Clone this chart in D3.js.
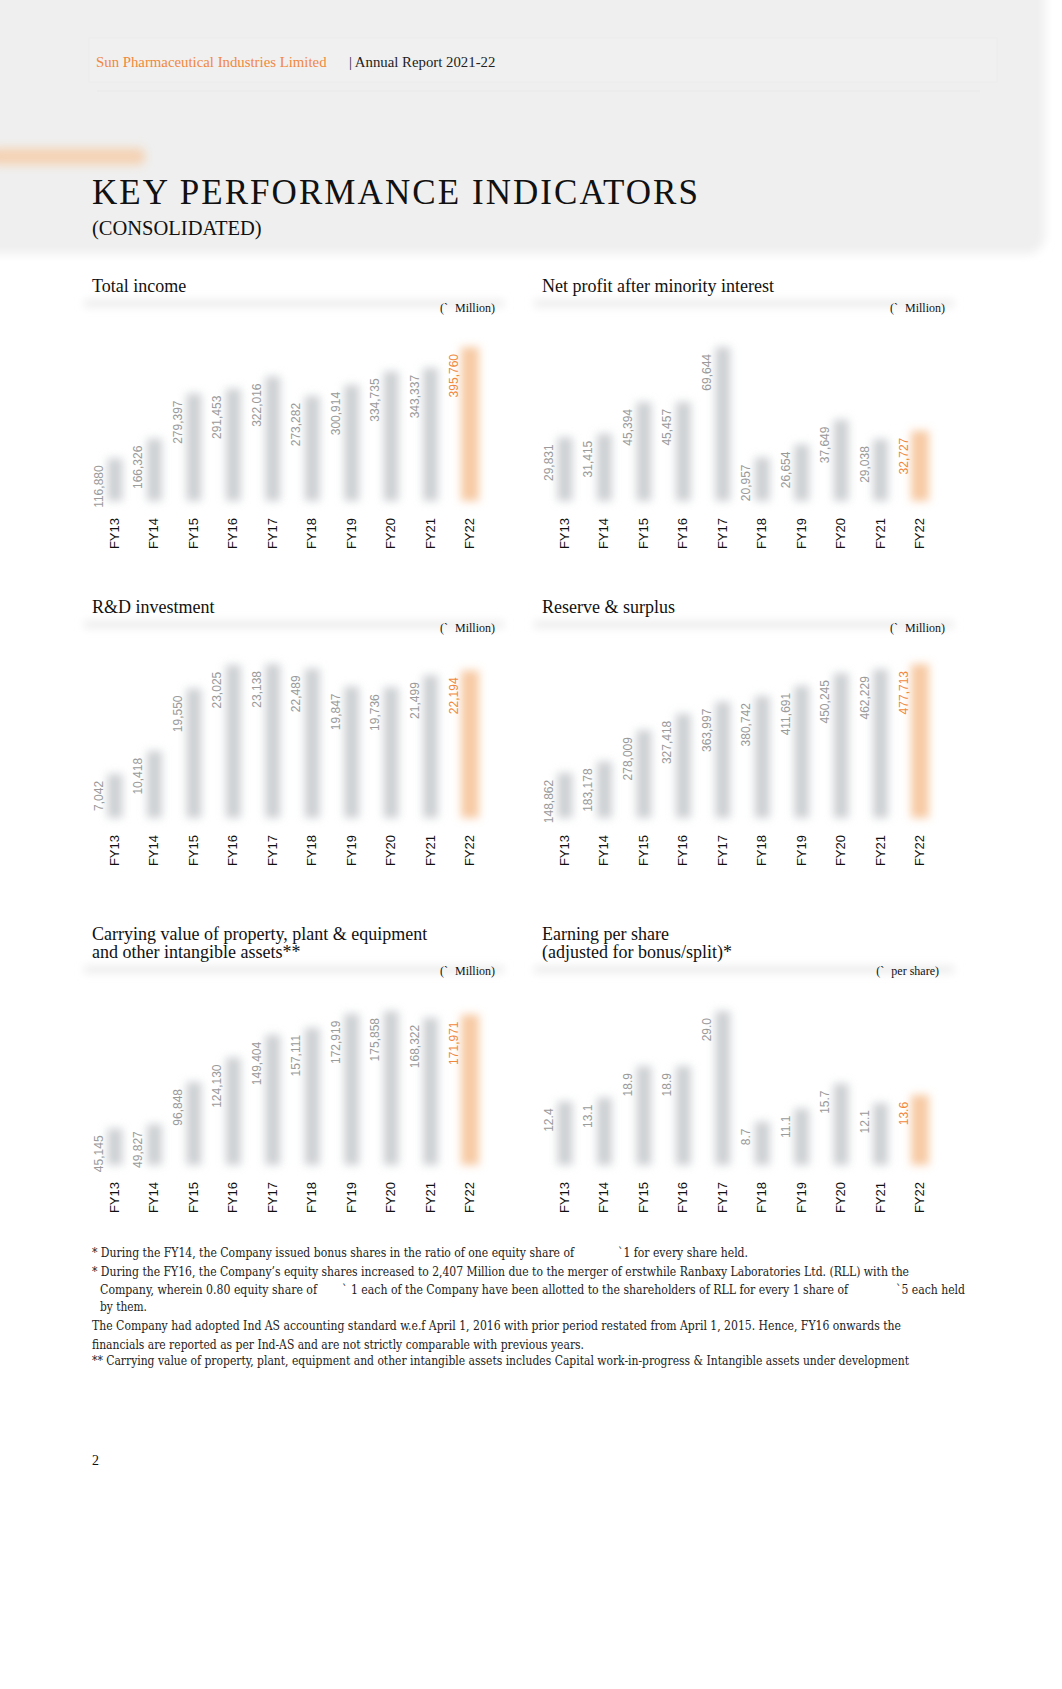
<!DOCTYPE html>
<html>
<head>
<meta charset="utf-8">
<script src="https://cdnjs.cloudflare.com/ajax/libs/d3/7.8.5/d3.min.js"></script>
<style>
  html, body { margin: 0; padding: 0; background: #fff; }
  svg { display: block; }
</style>
</head>
<body>
<svg id="page" width="1062" height="1689"></svg>
<script>
const categories = ["FY13", "FY14", "FY15", "FY16", "FY17", "FY18", "FY19", "FY20", "FY21", "FY22"];
const totalIncome = [116880, 166326, 279397, 291453, 322016, 273282, 300914, 334735, 343337, 395760];
const netProfit = [29831, 31415, 45394, 45457, 69644, 20957, 26654, 37649, 29038, 32727];
const rdInvestment = [7042, 10418, 19550, 23025, 23138, 22489, 19847, 19736, 21499, 22194];
const reserveSurplus = [148862, 183178, 278009, 327418, 363997, 380742, 411691, 450245, 462229, 477713];
const carryingValue = [45145, 49827, 96848, 124130, 149404, 157111, 172919, 175858, 168322, 171971];
const eps = [12.4, 13.1, 18.9, 18.9, 29.0, 8.7, 11.1, 15.7, 12.1, 13.6];

const footnotes = [
  ["* During the FY14, the Company issued bonus shares in the ratio of one equity share of", "`1 for every share held."],
  ["* During the FY16, the Company\u2019s equity shares increased to 2,407 Million due to the merger of erstwhile Ranbaxy Laboratories Ltd. (RLL) with the"],
  ["Company, wherein 0.80 equity share of", "` 1 each of the Company have been allotted to the shareholders of RLL for every 1 share of", "`5 each held"],
  ["by them."],
  ["The Company had adopted Ind AS accounting standard w.e.f April 1, 2016 with prior period restated from April 1, 2015. Hence, FY16 onwards the"],
  ["financials are reported as per Ind-AS and are not strictly comparable with previous years."],
  ["** Carrying value of property, plant, equipment and other intangible assets includes Capital work-in-progress & Intangible assets under development"]
];

const serif = "'Liberation Serif', 'Times New Roman', serif";
const noteFont = "'DejaVu Serif Condensed', 'DejaVu Serif', serif";
const sans = "'Liberation Sans', Arial, sans-serif";
const orange = "#f0883c";

const svg = d3.select("#page");
const defs = svg.append("defs");
defs.append("filter").attr("id", "blurBar").attr("x", "-80%").attr("y", "-30%").attr("width", "260%").attr("height", "160%")
  .append("feGaussianBlur").attr("stdDeviation", 4.2);
defs.append("filter").attr("id", "blurSoft").attr("x", "-20%").attr("y", "-150%").attr("width", "140%").attr("height", "400%")
  .append("feGaussianBlur").attr("stdDeviation", 4);
defs.append("filter").attr("id", "blurWide").attr("x", "-20%").attr("y", "-100%").attr("width", "140%").attr("height", "300%")
  .append("feGaussianBlur").attr("stdDeviation", 5);
defs.append("filter").attr("id", "blurHead").attr("x", "-10%").attr("y", "-10%").attr("width", "120%").attr("height", "120%")
  .append("feGaussianBlur").attr("stdDeviation", 5);

// header panel
svg.append("rect").attr("x", -30).attr("y", -30).attr("width", 1075).attr("height", 284)
  .attr("rx", 18).attr("fill", "#efefef").attr("filter", "url(#blurHead)");
svg.append("rect").attr("x", 89).attr("y", 38).attr("width", 908).attr("height", 44)
  .attr("fill", "#f0f0f0").attr("stroke", "#ececec");
svg.append("line").attr("x1", 97).attr("x2", 980).attr("y1", 91).attr("y2", 91).attr("stroke", "#e9e9e9");

svg.append("text").attr("x", 96).attr("y", 67).attr("font-family", serif).attr("font-size", 14.8)
  .attr("fill", orange).text("Sun Pharmaceutical Industries Limited");
svg.append("text").attr("x", 349).attr("y", 67).attr("font-family", serif).attr("font-size", 14.8)
  .attr("fill", "#222").text("| Annual Report 2021-22");

svg.append("rect").attr("x", -10).attr("y", 148).attr("width", 155).attr("height", 17)
  .attr("rx", 6).attr("fill", "#f4d3b5").attr("filter", "url(#blurWide)");

svg.append("text").attr("x", 92).attr("y", 204).attr("font-family", serif).attr("font-size", 35)
  .attr("textLength", 606).attr("lengthAdjust", "spacing").attr("fill", "#111")
  .text("KEY PERFORMANCE INDICATORS");
svg.append("text").attr("x", 92).attr("y", 235).attr("font-family", serif).attr("font-size", 20.5)
  .attr("fill", "#111").text("(CONSOLIDATED)");

// charts
const colLeft = 115, colRight = 565;
const charts = [
  { cx: colLeft,  titleY: 292, lines: ["Total income"], unit: "Million)", unitY: 312, bottom: 503, values: totalIncome, fmt: d3.format(",") },
  { cx: colRight, titleY: 292, lines: ["Net profit after minority interest"], unit: "Million)", unitY: 312, bottom: 503, values: netProfit, fmt: d3.format(",") },
  { cx: colLeft,  titleY: 613, lines: ["R&D investment"], unit: "Million)", unitY: 632, bottom: 820, values: rdInvestment, fmt: d3.format(",") },
  { cx: colRight, titleY: 613, lines: ["Reserve & surplus"], unit: "Million)", unitY: 632, bottom: 820, values: reserveSurplus, fmt: d3.format(",") },
  { cx: colLeft,  titleY: 940, lines: ["Carrying value of property, plant & equipment", "and other intangible assets**"], unit: "Million)", unitY: 975, bottom: 1167, values: carryingValue, fmt: d3.format(",") },
  { cx: colRight, titleY: 940, lines: ["Earning per share", "(adjusted for bonus/split)*"], unit: "per share)", unitY: 975, bottom: 1167, values: eps, fmt: d3.format(".1f"), unitShift: -6 }
];

charts.forEach(c => drawChart(c));

function drawChart(c) {
  const g = svg.append("g");
  const x = d3.scalePoint().domain(categories).range([c.cx, c.cx + 355]);
  const y = d3.scaleLinear().domain([0, d3.max(c.values)]).range([c.bottom, c.bottom - 158]);
  const last = categories[categories.length - 1];
  const tx = c.cx - 23;

  const bandY = c.titleY + (c.lines.length - 1) * 18 + 8;
  g.append("rect").attr("x", tx - 8).attr("y", bandY).attr("width", 420).attr("height", 7)
    .attr("fill", "#ebebeb").attr("filter", "url(#blurSoft)");

  g.append("text").attr("font-family", serif).attr("font-size", 18).attr("fill", "#111")
    .selectAll("tspan").data(c.lines).join("tspan")
    .attr("x", tx).attr("y", (d, i) => c.titleY + i * 18).text(d => d);

  const ux = c.cx + 380 + (c.unitShift || 0);
  const ut = g.append("text").attr("x", ux).attr("y", c.unitY).attr("text-anchor", "end")
    .attr("font-family", serif).attr("font-size", 12).attr("fill", "#111");
  ut.append("tspan").text("(`");
  ut.append("tspan").attr("dx", 7).text(c.unit);

  const data = categories.map((k, i) => ({ k, v: c.values[i] }));

  g.append("g").selectAll("rect").data(data).join("rect")
    .attr("x", d => x(d.k) - (d.k === last ? 9 : 7.5))
    .attr("y", d => y(d.v) + 2)
    .attr("width", d => d.k === last ? 18 : 15)
    .attr("height", d => y(0) - y(d.v) - 4)
    .attr("fill", d => d.k === last ? "#f7cba5" : "#cdd0d3")
    .attr("filter", "url(#blurBar)");

  g.append("g").selectAll("text").data(data).join("text")
    .attr("transform", d => `translate(${x(d.k) - 12},${y(d.v) + 9}) rotate(-90)`)
    .attr("text-anchor", "end")
    .attr("font-family", sans).attr("font-size", 12)
    .attr("fill", d => d.k === last ? orange : "#9a9a9a")
    .text(d => c.fmt(d.v));

  g.append("g").selectAll("text").data(categories).join("text")
    .attr("transform", d => `translate(${x(d) + 4},${c.bottom + 15}) rotate(-90)`)
    .attr("text-anchor", "end")
    .attr("font-family", sans).attr("font-size", 13).attr("fill", "#111")
    .text(d => d);
}

// footnotes
const noteY = [1257, 1276, 1294, 1311, 1330, 1349, 1365];
const noteX = [[92, 618], [92], [100, 342, 896], [100], [92], [92], [92]];
const noteW = [[482, 130], [817], [217, 506, 69], [47], [809], [492], [817]];
const notes = svg.append("g").attr("font-family", noteFont).attr("font-size", 12).attr("fill", "#222");
footnotes.forEach((parts, i) => {
  parts.forEach((p, j) => {
    notes.append("text").attr("x", noteX[i][j]).attr("y", noteY[i])
      .attr("textLength", noteW[i][j]).attr("lengthAdjust", "spacingAndGlyphs").text(p);
  });
});

svg.append("text").attr("x", 92).attr("y", 1465).attr("font-family", serif).attr("font-size", 14)
  .attr("fill", "#111").text("2");
</script>
</body>
</html>
